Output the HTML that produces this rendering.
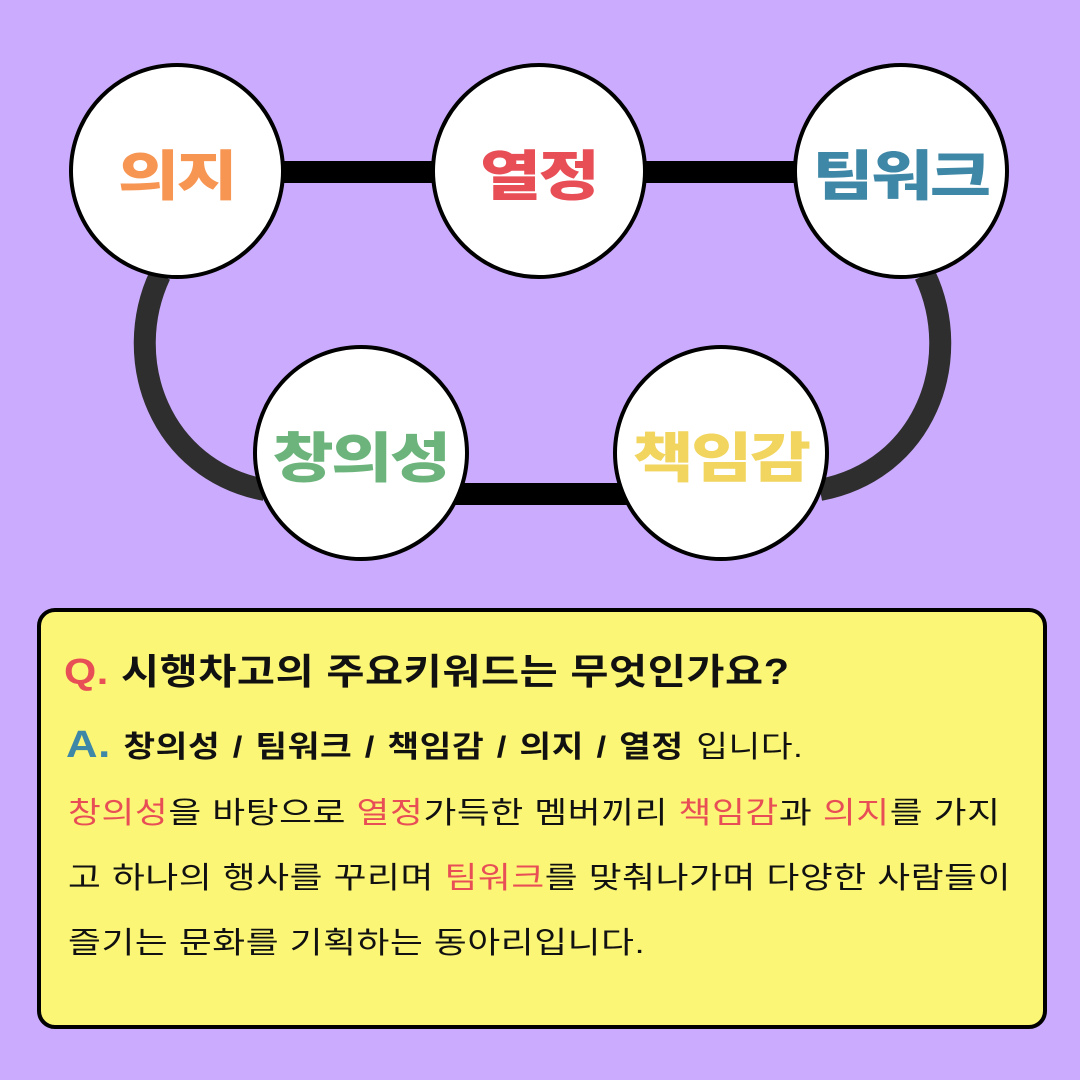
<!DOCTYPE html>
<html><head><meta charset="utf-8"><style>
body{margin:0;width:1080px;height:1080px;background:#cbabfd;position:relative;overflow:hidden;font-family:"Liberation Sans","Noto Sans CJK KR","NanumGothic",sans-serif}
.c{position:absolute;width:216px;height:216px;border:4px solid #000;border-radius:50%;background:#fff;box-sizing:border-box;display:flex;align-items:center;justify-content:center;font-weight:900;font-size:54px;letter-spacing:-2px}
.c span{display:inline-block;transform:scaleX(1.23)}
.box{position:absolute;left:37px;top:608px;width:1010px;height:421px;box-sizing:border-box;border:4px solid #000;border-radius:18px;background:#fbf676}
.t{position:absolute;white-space:nowrap;color:#111;transform-origin:0 50%}
.r{color:#e84e56}
</style></head><body>
<svg width="1080" height="1080" style="position:absolute;left:0;top:0">
<path d="M160 275 C 120 360,160 470,265 490" fill="none" stroke="#2e2e2e" stroke-width="22"/>
<path d="M925 275 C 965 360,925 470,820 490" fill="none" stroke="#2e2e2e" stroke-width="22"/>
<rect x="270" y="161" width="180" height="22" fill="#000"/>
<rect x="630" y="161" width="180" height="22" fill="#000"/>
<rect x="450" y="483" width="190" height="22" fill="#000"/>
</svg>
<div class="c" style="left:69px;top:63px;color:#f79552"><span>의지</span></div>
<div class="c" style="left:431px;top:63px;color:#e84e56"><span>열정</span></div>
<div class="c" style="left:793px;top:63px;color:#3f87a6"><span>팀워크</span></div>
<div class="c" style="left:253px;top:345px;color:#6db47c"><span>창의성</span></div>
<div class="c" style="left:613px;top:345px;color:#f1d55f"><span>책임감</span></div>
<div class="box"></div>
<div class="t" style="left:64px;top:643px;font-size:36px;font-weight:bold;letter-spacing:0.5px;transform:scaleX(1.15)"><span class="r">Q.</span> 시행차고의 주요키워드는 무엇인가요?</div>
<div class="t" style="left:66px;top:722px;font-size:30px;letter-spacing:0.5px;word-spacing:2px;transform:scaleX(1.15)"><b style="font-size:38px;color:#3f87a6">A.</b> <b>창의성 / 팀워크 / 책임감 / 의지 / 열정</b> 입니다.</div>
<div class="t" style="left:68px;top:788px;font-size:30px;letter-spacing:0.5px;transform:scaleX(1.19)"><span class="r">창의성</span>을 바탕으로 <span class="r">열정</span>가득한 멤버끼리 <span class="r">책임감</span>과 <span class="r">의지</span>를 가지</div>
<div class="t" style="left:68px;top:853px;font-size:30px;letter-spacing:0.5px;transform:scaleX(1.19)">고 하나의 행사를 꾸리며 <span class="r">팀워크</span>를 맞춰나가며 다양한 사람들이</div>
<div class="t" style="left:68px;top:918px;font-size:30px;letter-spacing:0.5px;transform:scaleX(1.19)">즐기는 문화를 기획하는 동아리입니다.</div>
</body></html>
